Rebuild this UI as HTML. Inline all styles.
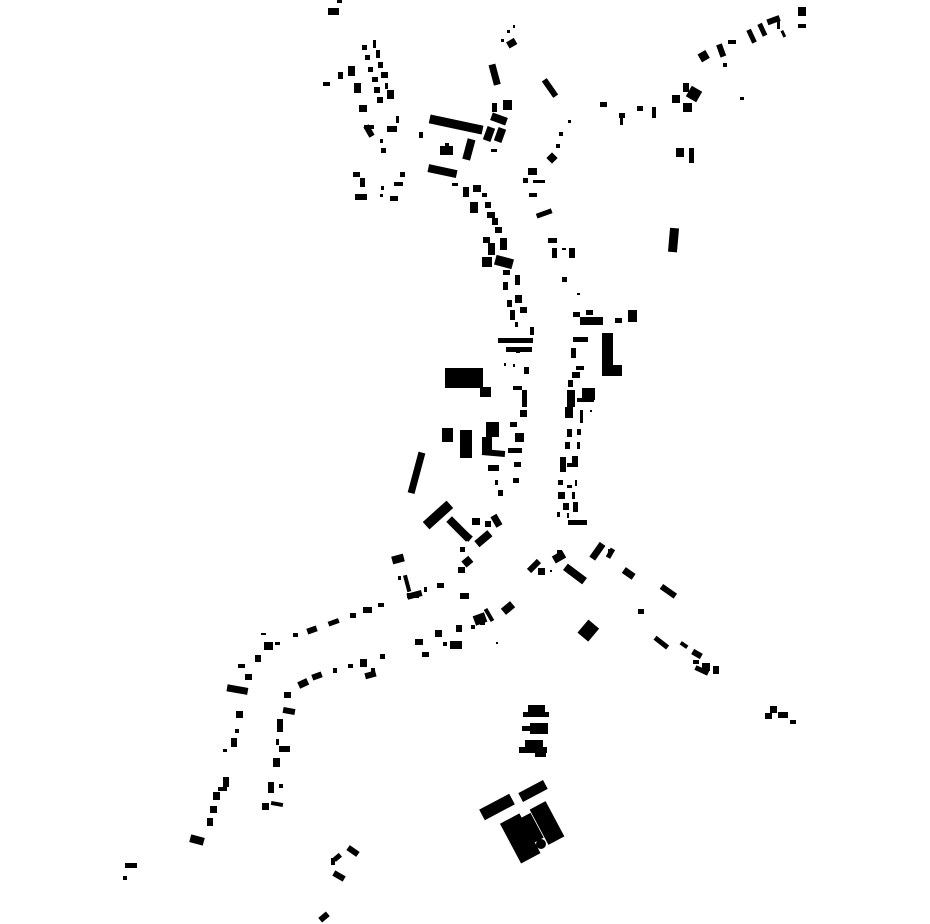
<!DOCTYPE html>
<html><head><meta charset="utf-8"><style>html,body{margin:0;padding:0;background:#fff}svg{display:block}</style></head>
<body>
<svg width="930" height="924" viewBox="0 0 930 924" xmlns="http://www.w3.org/2000/svg">
<g fill="#000">
<!-- top left cluster -->
<rect x="328" y="8" width="11" height="7"/><rect x="337" y="0" width="5" height="3"/>
<rect x="362" y="45" width="5" height="5"/><rect x="373" y="40" width="3" height="8"/>
<rect x="365" y="55" width="5" height="5"/><rect x="376" y="50" width="4" height="8"/>
<rect x="368" y="67" width="5" height="5"/><rect x="378" y="62" width="5" height="6"/>
<rect x="372" y="77" width="6" height="5"/><rect x="381" y="72" width="7" height="6"/>
<rect x="374" y="87" width="6" height="6"/><rect x="385" y="83" width="3" height="6"/>
<rect x="377" y="97" width="6" height="6"/><rect x="387" y="90" width="7" height="9"/>
<rect x="359" y="105" width="8" height="7"/>
<rect x="323" y="82" width="7" height="4"/><rect x="338" y="72" width="5" height="7"/>
<rect x="348" y="66" width="7" height="10"/><rect x="354" y="83" width="7" height="10"/>
<rect x="366" y="125" width="6" height="12" transform="rotate(-30 369 131)"/><rect x="364" y="125" width="10" height="4"/>
<rect x="387" y="126" width="10" height="6"/><rect x="396" y="116" width="3" height="7"/>
<rect x="380" y="139" width="3" height="4"/><rect x="381" y="148" width="5" height="5"/>
<rect x="419" y="132" width="4" height="6"/>
<rect x="429" y="120" width="54" height="9" transform="rotate(12 456 125)"/>
<rect x="440" y="146" width="13" height="9"/><rect x="445" y="143" width="4" height="4"/>
<rect x="465" y="139" width="8" height="21" transform="rotate(15 469 149)"/>
<rect x="428" y="167" width="29" height="8" transform="rotate(12 442 171)"/>
<rect x="353" y="172" width="7" height="5"/><rect x="360" y="178" width="5" height="9"/>
<rect x="400" y="172" width="5" height="5"/><rect x="394" y="182" width="9" height="4"/>
<rect x="381" y="186" width="3" height="4"/><rect x="380" y="194" width="3" height="3"/>
<rect x="355" y="194" width="12" height="6"/><rect x="390" y="196" width="8" height="5"/>
<!-- top middle -->
<rect x="491" y="64" width="7" height="21" transform="rotate(-15 495 74)"/>
<rect x="507" y="40" width="9" height="7" transform="rotate(-30 511 43)"/>
<rect x="501" y="39" width="3" height="3"/><rect x="507" y="30" width="3" height="3"/><rect x="513" y="25" width="2" height="3"/>
<rect x="547" y="78" width="6" height="20" transform="rotate(-35 550 88)"/>
<rect x="492" y="103" width="5" height="9"/><rect x="503" y="100" width="9" height="10"/>
<rect x="491" y="115" width="16" height="8" transform="rotate(20 499 119)"/>
<rect x="485" y="127" width="8" height="14" transform="rotate(20 489 134)"/>
<rect x="496" y="128" width="8" height="14" transform="rotate(20 500 135)"/>
<rect x="491" y="149" width="6" height="3"/>
<rect x="548" y="154" width="8" height="8" transform="rotate(45 552 158)"/>
<rect x="556" y="144" width="4" height="4"/><rect x="559" y="132" width="4" height="4"/><rect x="568" y="120" width="3" height="3"/>
<!-- top right -->
<rect x="600" y="102" width="7" height="5"/><rect x="619" y="113" width="6" height="5"/><rect x="620" y="113" width="3" height="12"/>
<rect x="637" y="106" width="6" height="5"/><rect x="652" y="107" width="4" height="11"/>
<rect x="672" y="95" width="8" height="8"/><rect x="683" y="83" width="6" height="9"/>
<rect x="688" y="88" width="12" height="12" transform="rotate(30 694 94)"/><rect x="683" y="103" width="9" height="9"/>
<rect x="740" y="97" width="4" height="3"/>
<rect x="699" y="52" width="9" height="9" transform="rotate(-30 703 56)"/>
<rect x="718" y="44" width="6" height="13" transform="rotate(-20 721 50)"/>
<rect x="723" y="63" width="4" height="4"/><rect x="728" y="40" width="8" height="4"/>
<rect x="749" y="29" width="5" height="14" transform="rotate(-25 752 36)"/>
<rect x="760" y="23" width="5" height="13" transform="rotate(-25 763 30)"/>
<rect x="767" y="17" width="13" height="6" transform="rotate(-20 774 20)"/>
<rect x="777" y="20" width="3" height="9"/>
<rect x="782" y="30" width="3" height="7" transform="rotate(-25 784 34)"/>
<rect x="798" y="7" width="8" height="9"/><rect x="798" y="24" width="8" height="4"/>
<rect x="676" y="148" width="8" height="9"/><rect x="689" y="148" width="5" height="15"/>
<rect x="669" y="228" width="9" height="24" transform="rotate(5 673 240)"/>
<!-- main street left -->
<rect x="452" y="183" width="6" height="3"/><rect x="463" y="187" width="6" height="10"/>
<rect x="473" y="185" width="8" height="7"/><rect x="482" y="193" width="5" height="4"/>
<rect x="470" y="202" width="8" height="11"/><rect x="485" y="202" width="6" height="6"/>
<rect x="487" y="212" width="8" height="6"/><rect x="492" y="218" width="6" height="7"/>
<rect x="495" y="227" width="7" height="6"/><rect x="483" y="237" width="7" height="6"/>
<rect x="488" y="243" width="7" height="12"/><rect x="500" y="238" width="7" height="12"/>
<rect x="482" y="257" width="10" height="10"/><rect x="495" y="257" width="18" height="10" transform="rotate(15 504 262)"/>
<rect x="503" y="270" width="7" height="5"/><rect x="515" y="275" width="5" height="10"/>
<rect x="503" y="282" width="5" height="8"/><rect x="515" y="295" width="7" height="8"/>
<rect x="520" y="307" width="7" height="6"/><rect x="507" y="300" width="5" height="7"/>
<rect x="510" y="310" width="5" height="10"/><rect x="515" y="322" width="3" height="5"/>
<rect x="498" y="338" width="35" height="5"/><rect x="530" y="327" width="4" height="8"/>
<rect x="506" y="347" width="26" height="5"/><rect x="516" y="350" width="4" height="3"/>
<rect x="504" y="363" width="2" height="3"/><rect x="513" y="364" width="2" height="3"/>
<rect x="524" y="367" width="5" height="7"/>
<rect x="445" y="368" width="38" height="20"/><rect x="451" y="368" width="22" height="3"/>
<rect x="480" y="387" width="11" height="10"/>
<rect x="513" y="386" width="9" height="4"/><rect x="522" y="390" width="5" height="17"/>
<rect x="520" y="410" width="7" height="7"/><rect x="510" y="422" width="7" height="5"/>
<rect x="515" y="433" width="9" height="9"/><rect x="508" y="448" width="14" height="5"/>
<rect x="514" y="462" width="7" height="5"/><rect x="513" y="478" width="6" height="5"/>
<rect x="442" y="428" width="11" height="14"/><rect x="460" y="430" width="12" height="28"/>
<rect x="486" y="422" width="13" height="15"/><rect x="482" y="437" width="10" height="16"/>
<rect x="482" y="450" width="23" height="6" transform="rotate(5 493 453)"/>
<rect x="488" y="465" width="11" height="6"/><rect x="495" y="480" width="3" height="5"/><rect x="498" y="490" width="5" height="6"/>
<rect x="413" y="452" width="7" height="42" transform="rotate(15 417 473)"/>
<rect x="422" y="510" width="32" height="10" transform="rotate(-42 438 515)"/>
<rect x="445" y="525" width="28" height="8" transform="rotate(45 459 529)"/>
<rect x="472" y="518" width="8" height="7"/><rect x="485" y="521" width="6" height="6"/>
<rect x="475" y="535" width="17" height="8" transform="rotate(-40 483 539)"/>
<rect x="493" y="515" width="7" height="12" transform="rotate(-30 496 521)"/>
<rect x="455" y="530" width="18" height="7" transform="rotate(40 464 533)"/>
<!-- main street right -->
<rect x="528" y="168" width="9" height="7"/><rect x="523" y="178" width="5" height="5"/><rect x="533" y="180" width="12" height="3"/>
<rect x="529" y="193" width="8" height="4"/>
<rect x="536" y="211" width="16" height="5" transform="rotate(-20 544 213)"/>
<rect x="548" y="238" width="9" height="5"/><rect x="552" y="248" width="5" height="10"/>
<rect x="562" y="248" width="4" height="2"/><rect x="569" y="248" width="6" height="10"/>
<rect x="562" y="277" width="5" height="5"/><rect x="577" y="293" width="3" height="2"/>
<rect x="573" y="312" width="7" height="5"/><rect x="586" y="310" width="7" height="5"/>
<rect x="580" y="317" width="23" height="8"/><rect x="615" y="318" width="7" height="5"/>
<rect x="628" y="310" width="9" height="12"/>
<rect x="602" y="333" width="11" height="32"/><rect x="602" y="365" width="20" height="11"/>
<rect x="573" y="337" width="15" height="5"/><rect x="571" y="348" width="5" height="10"/>
<rect x="576" y="366" width="8" height="4"/><rect x="572" y="372" width="8" height="6"/>
<rect x="568" y="380" width="5" height="7"/><rect x="582" y="388" width="13" height="12"/>
<rect x="567" y="390" width="8" height="17"/><rect x="577" y="398" width="17" height="4"/>
<rect x="565" y="407" width="8" height="11"/><rect x="580" y="410" width="3" height="13"/><rect x="590" y="410" width="2" height="2"/>
<rect x="567" y="429" width="5" height="8"/><rect x="577" y="429" width="4" height="6"/>
<rect x="565" y="442" width="5" height="7"/><rect x="577" y="442" width="3" height="7"/>
<rect x="560" y="457" width="6" height="15"/><rect x="572" y="456" width="6" height="11"/><rect x="567" y="463" width="10" height="4"/>
<rect x="558" y="480" width="5" height="5"/><rect x="567" y="485" width="5" height="3"/><rect x="575" y="480" width="2" height="6"/>
<rect x="558" y="492" width="7" height="7"/><rect x="572" y="492" width="3" height="7"/>
<rect x="563" y="503" width="6" height="7"/><rect x="573" y="502" width="5" height="10"/>
<rect x="557" y="512" width="3" height="5"/><rect x="567" y="513" width="2" height="5"/>
<rect x="568" y="520" width="19" height="5"/>
<!-- junction area -->
<rect x="392" y="555" width="12" height="8" transform="rotate(-15 398 559)"/>
<rect x="460" y="547" width="5" height="5"/><rect x="463" y="558" width="9" height="8" transform="rotate(-40 467 562)"/>
<rect x="458" y="567" width="7" height="6"/>
<rect x="398" y="576" width="3" height="4"/><rect x="405" y="575" width="4" height="17" transform="rotate(-15 407 583)"/>
<rect x="407" y="592" width="15" height="6" transform="rotate(-15 414 595)"/>
<rect x="424" y="587" width="3" height="5"/><rect x="437" y="583" width="7" height="5"/>
<rect x="460" y="593" width="9" height="6"/>
<rect x="527" y="563" width="14" height="6" transform="rotate(-45 534 566)"/>
<rect x="538" y="568" width="7" height="7"/><rect x="550" y="570" width="2" height="2"/>
<rect x="553" y="553" width="12" height="8" transform="rotate(-30 559 557)"/><rect x="557" y="550" width="5" height="6"/>
<rect x="563" y="570" width="24" height="8" transform="rotate(37 575 574)"/>
<rect x="588" y="548" width="18" height="7" transform="rotate(-55 597 551)"/>
<rect x="605" y="551" width="10" height="5" transform="rotate(-60 610 553)"/><rect x="608" y="549" width="4" height="4"/>
<rect x="623" y="570" width="12" height="7" transform="rotate(35 629 573)"/>
<rect x="660" y="588" width="17" height="6" transform="rotate(35 668 591)"/>
<rect x="638" y="609" width="6" height="5"/>
<rect x="580" y="624" width="17" height="14" transform="rotate(-50 588 631)"/>
<rect x="653" y="640" width="16" height="5" transform="rotate(38 661 643)"/>
<rect x="680" y="643" width="8" height="4" transform="rotate(35 684 645)"/>
<rect x="692" y="651" width="10" height="6" transform="rotate(30 697 654)"/>
<rect x="693" y="660" width="6" height="4"/><rect x="702" y="663" width="8" height="8"/>
<rect x="695" y="668" width="14" height="5" transform="rotate(25 702 670)"/>
<rect x="713" y="666" width="6" height="8"/>
<rect x="770" y="706" width="7" height="7"/><rect x="765" y="713" width="7" height="6"/>
<rect x="778" y="712" width="10" height="6"/><rect x="790" y="720" width="6" height="4"/>
<!-- lower lanes -->
<rect x="502" y="604" width="12" height="8" transform="rotate(-40 508 608)"/>
<rect x="487" y="608" width="4" height="14" transform="rotate(-30 489 615)"/>
<rect x="474" y="614" width="12" height="10" transform="rotate(-20 480 619)"/><rect x="480" y="620" width="5" height="5"/>
<rect x="471" y="625" width="4" height="4"/>
<rect x="456" y="625" width="6" height="7"/><rect x="435" y="630" width="7" height="7"/>
<rect x="415" y="639" width="8" height="6"/><rect x="443" y="642" width="4" height="4"/><rect x="450" y="641" width="12" height="8"/>
<rect x="422" y="652" width="7" height="5"/><rect x="496" y="642" width="2" height="2"/>
<rect x="407" y="593" width="12" height="5"/><rect x="378" y="603" width="6" height="4"/>
<rect x="363" y="607" width="9" height="6"/><rect x="350" y="613" width="6" height="5"/>
<rect x="328" y="620" width="11" height="5" transform="rotate(-20 333 622)"/>
<rect x="307" y="627" width="10" height="6" transform="rotate(-20 312 630)"/>
<rect x="293" y="633" width="5" height="4"/><rect x="275" y="642" width="5" height="3"/>
<rect x="264" y="642" width="9" height="8"/><rect x="261" y="633" width="5" height="2"/>
<rect x="255" y="655" width="6" height="7"/><rect x="238" y="664" width="7" height="4"/>
<rect x="245" y="674" width="7" height="6"/><rect x="227" y="686" width="21" height="7" transform="rotate(10 237 689)"/>
<rect x="236" y="711" width="7" height="7"/><rect x="235" y="729" width="4" height="4"/>
<rect x="231" y="738" width="6" height="9"/><rect x="223" y="749" width="4" height="3"/>
<rect x="223" y="777" width="6" height="10"/><rect x="218" y="787" width="9" height="4"/>
<rect x="213" y="792" width="7" height="8"/><rect x="210" y="806" width="7" height="7"/>
<rect x="207" y="818" width="6" height="8"/><rect x="190" y="836" width="14" height="8" transform="rotate(15 197 840)"/>
<rect x="298" y="680" width="10" height="7" transform="rotate(-25 303 683)"/>
<rect x="312" y="673" width="10" height="6" transform="rotate(-20 317 676)"/>
<rect x="333" y="668" width="4" height="5"/><rect x="348" y="664" width="5" height="4"/>
<rect x="360" y="659" width="7" height="8"/><rect x="365" y="672" width="11" height="6" transform="rotate(-15 370 675)"/><rect x="371" y="668" width="4" height="7"/>
<rect x="380" y="654" width="5" height="5"/>
<rect x="284" y="692" width="7" height="6"/><rect x="283" y="708" width="12" height="6" transform="rotate(10 289 711)"/>
<rect x="277" y="719" width="6" height="13"/><rect x="276" y="739" width="3" height="6"/>
<rect x="279" y="746" width="11" height="6"/><rect x="273" y="758" width="7" height="9"/>
<rect x="268" y="782" width="6" height="11"/><rect x="279" y="784" width="4" height="4"/>
<rect x="262" y="803" width="7" height="7"/><rect x="271" y="802" width="12" height="4" transform="rotate(10 277 804)"/>
<rect x="125" y="863" width="12" height="5"/><rect x="123" y="876" width="4" height="4"/>
<rect x="333" y="855" width="8" height="5" transform="rotate(-40 337 857)"/><rect x="331" y="858" width="4" height="7"/>
<rect x="347" y="848" width="12" height="6" transform="rotate(35 353 851)"/>
<rect x="333" y="873" width="12" height="6" transform="rotate(30 339 876)"/>
<rect x="319" y="914" width="10" height="6" transform="rotate(-40 324 917)"/>
<!-- bottom complex -->
<rect x="528" y="705" width="17" height="8"/><rect x="523" y="712" width="26" height="5"/>
<rect x="530" y="723" width="18" height="11"/><rect x="522" y="726" width="8" height="5"/>
<rect x="525" y="740" width="18" height="8"/><rect x="519" y="747" width="28" height="6"/>
<rect x="535" y="752" width="11" height="5"/>
<rect x="480" y="801" width="34" height="12" transform="rotate(-28 497 807)"/>
<rect x="519" y="786" width="28" height="10" transform="rotate(-28 533 791)"/>
<rect x="509" y="816" width="22" height="45" transform="rotate(-28 520 838)"/>
<rect x="538" y="803" width="18" height="40" transform="rotate(-28 547 823)"/>
<rect x="522" y="815" width="16" height="28" transform="rotate(-28 530 829)"/>
<circle cx="541" cy="844" r="5"/>
</g>
</svg>
</body></html>
